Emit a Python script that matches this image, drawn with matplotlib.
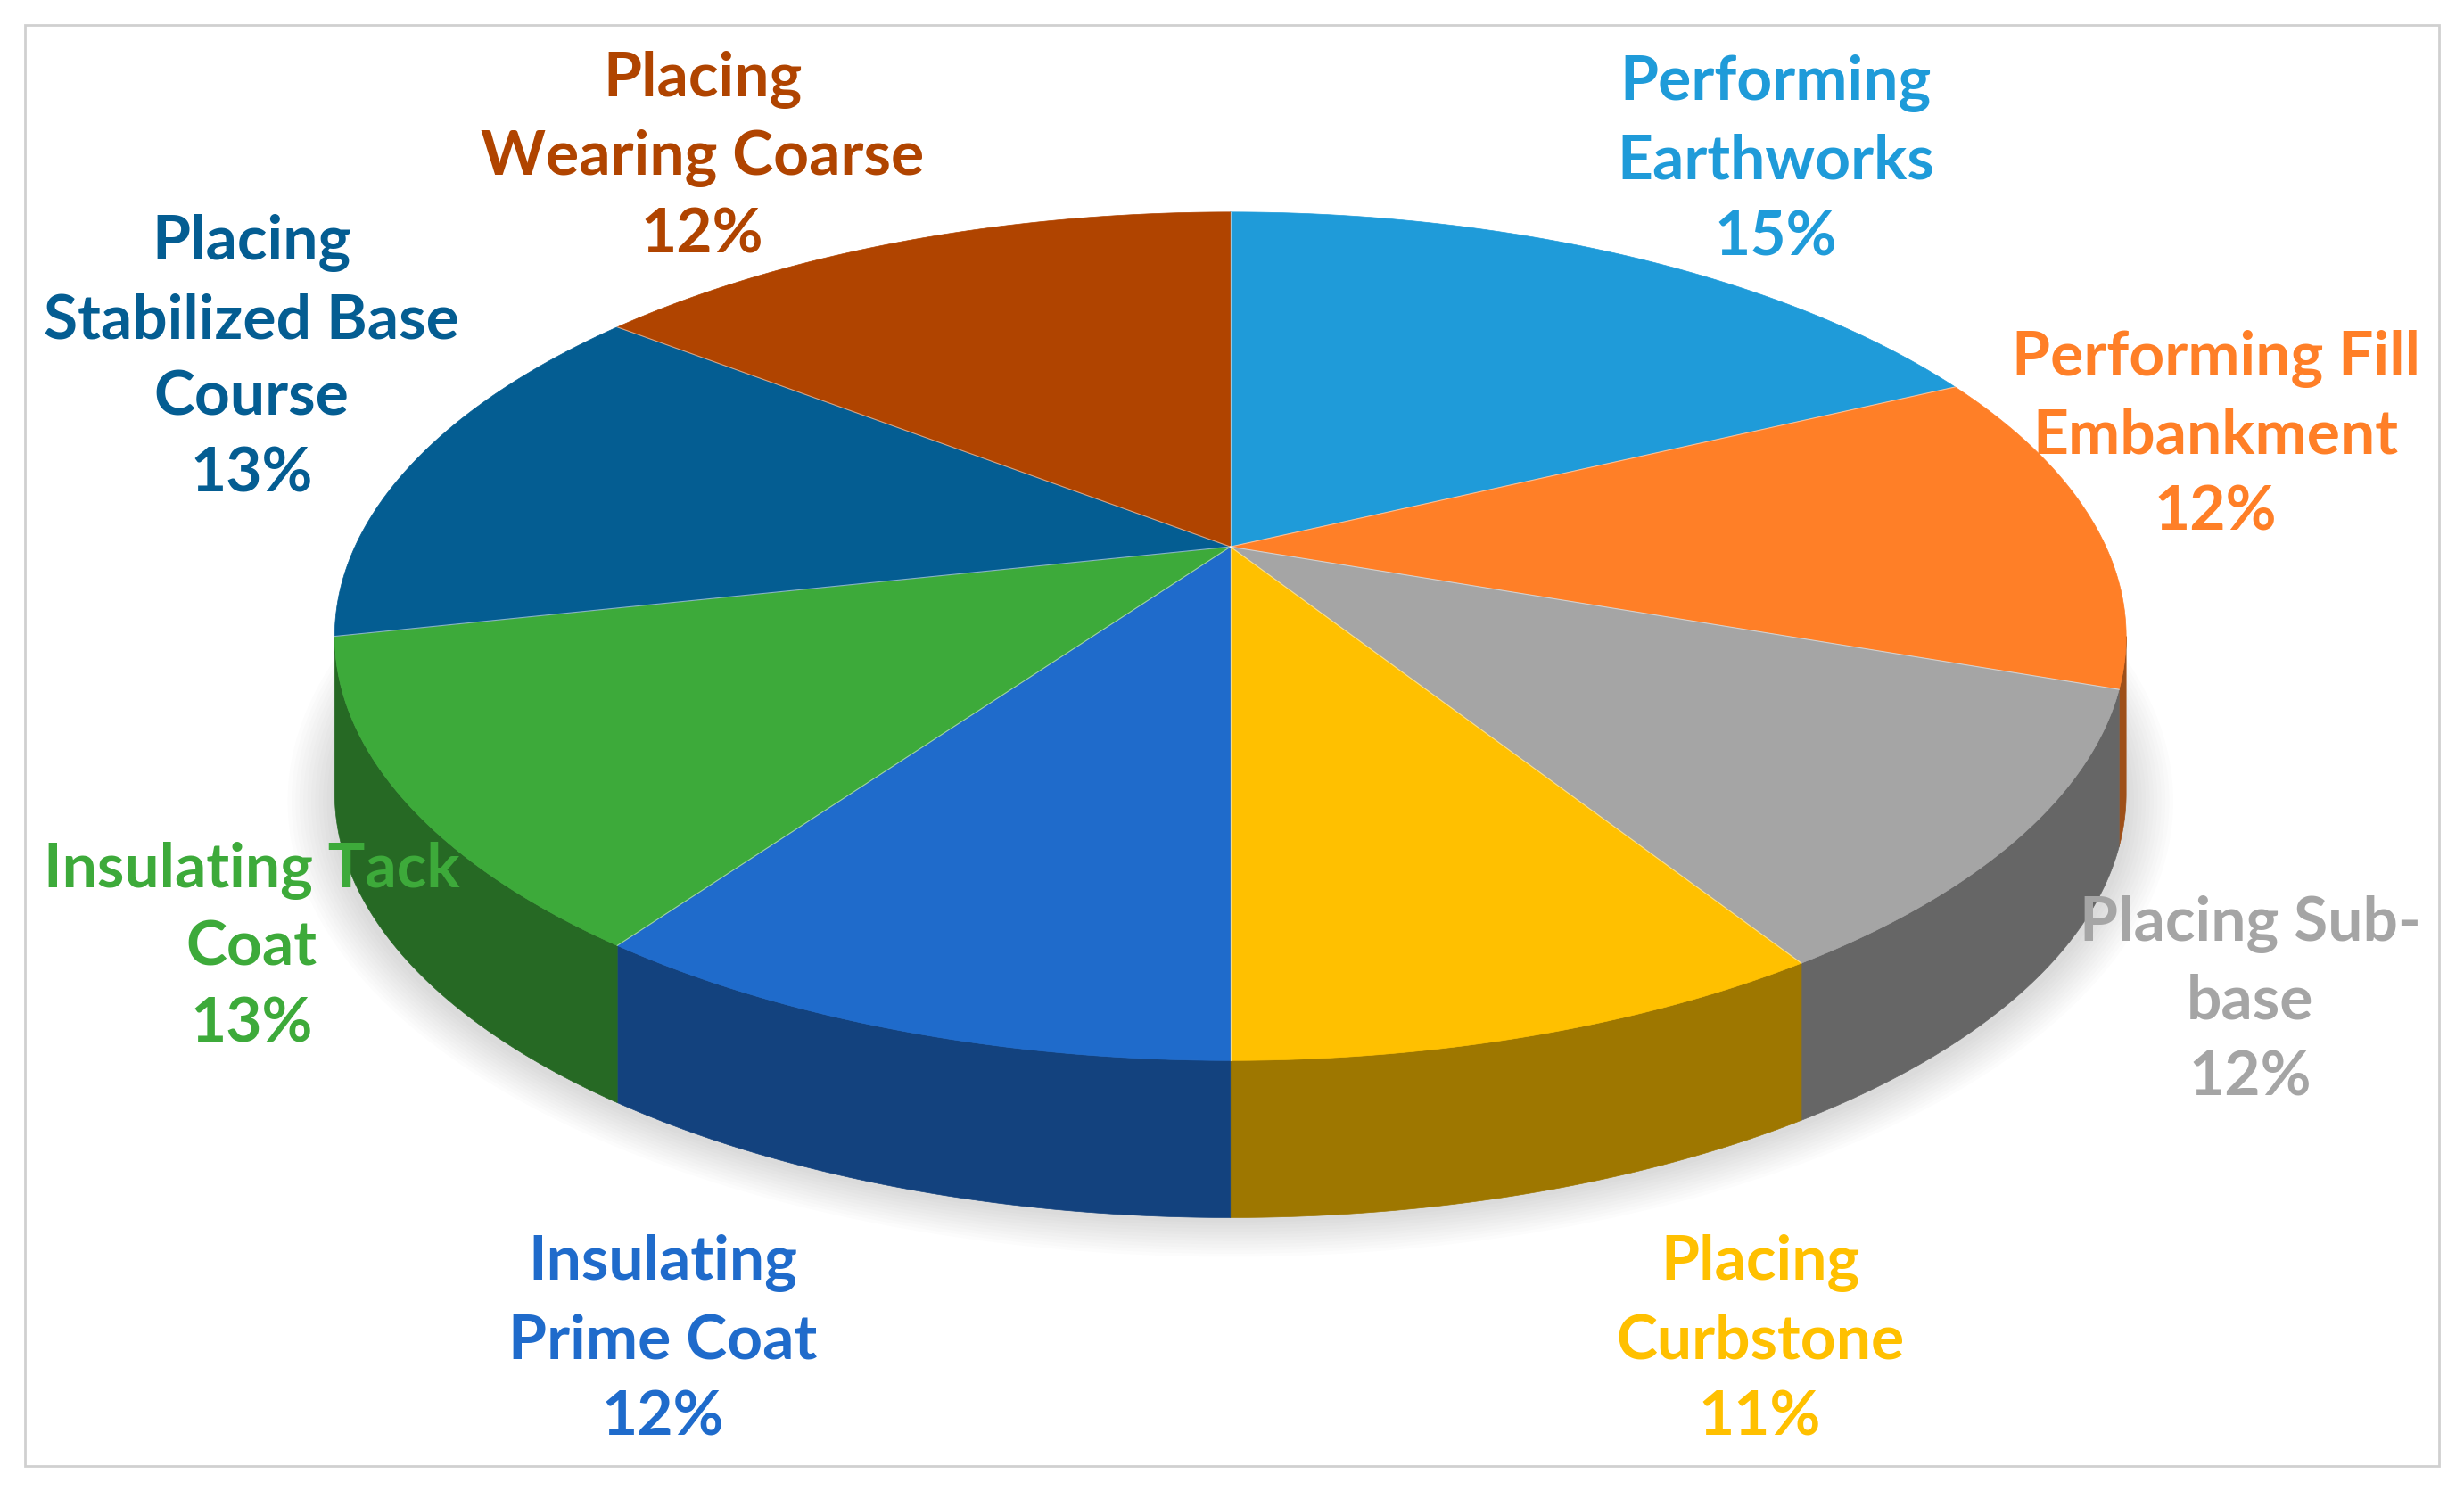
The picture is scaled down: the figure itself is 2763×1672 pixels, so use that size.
import numpy as np
import matplotlib
matplotlib.use("Agg")
import matplotlib.pyplot as plt
from matplotlib.patches import Polygon, Ellipse, Rectangle
import matplotlib.colors as mc

labels = ["Performing\nEarthworks", "Performing Fill\nEmbankment", "Placing Sub-\nbase",
          "Placing\nCurbstone", "Insulating\nPrime Coat", "Insulating Tack\nCoat",
          "Placing\nStabilized Base\nCourse", "Placing\nWearing Coarse"]
values = [15, 12, 12, 11, 12, 13, 13, 12]
colors = ["#1F9BD9", "#FF7F27", "#A5A5A5", "#FFC000", "#1F6BCB", "#3DAA3A", "#045D92", "#B04400"]
label_pos = [(1130, 102), (1410, 277), (1432, 637), (1120, 853), (422, 853),
             (160, 603), (160, 228), (447, 100)]

W, H = 1568, 949
fig = plt.figure(figsize=(27.63, 16.72), dpi=100)
ax = fig.add_axes([0, 0, 1, 1])
ax.set_xlim(0, W); ax.set_ylim(H, 0); ax.axis("off")
ax.add_patch(Rectangle((16, 16), W - 32, H - 32, fill=False, ec="#D0D0D0", lw=2))

ax0, ay0 = 783, 348           # apex
cx, cy, rx, ry, depth = 783, 405, 570, 270, 100
for k in range(12):
    ax.add_patch(Ellipse((cx, cy + depth + 5), 2 * rx + 60 - 5 * k, 2 * ry + 40 - 4 * k,
                         color="#000000", alpha=0.012, lw=0, zorder=0))

def pt(t, dy=0):
    return (cx + rx * np.cos(t), cy - ry * np.sin(t) + dy)

total = sum(values)
start = np.pi / 2
angles = []
for v in values:
    end = start - 2 * np.pi * v / total
    angles.append((start, end))
    start = end

for (a0, a1), c in zip(angles, colors):
    lo, hi = min(a0, a1), max(a0, a1)
    for off in (0, -2 * np.pi):
        s, e = max(lo, -np.pi + off), min(hi, 0 + off)
        if e > s:
            t = np.linspace(s, e, 100)
            top = [pt(x) for x in t]
            bot = [pt(x, depth) for x in t[::-1]]
            dark = np.array(mc.to_rgb(c)) * 0.62
            ax.add_patch(Polygon(top + bot, closed=True, fc=dark, ec=dark, lw=0.5, zorder=1))
for (a0, a1), c in zip(angles, colors):
    t = np.linspace(a0, a1, 200)
    pts = [(ax0, ay0)] + [pt(x) for x in t]
    ax.add_patch(Polygon(pts, closed=True, fc=c, ec=c, lw=0.5, zorder=2))
for a0, _ in angles:
    p = pt(a0)
    ax.plot([ax0, p[0]], [ay0, p[1]], color="white", lw=0.8, alpha=0.5, zorder=3)

for lab, v, (x, y), c in zip(labels, values, label_pos, colors):
    ax.text(x, y, f"{lab}\n{v}%", ha="center", va="center", color=c, fontsize=50,
            fontweight="bold", family=["Lato", "DejaVu Sans"], linespacing=1.45, zorder=5)

fig.savefig("out.png", dpi=100, facecolor="white")
